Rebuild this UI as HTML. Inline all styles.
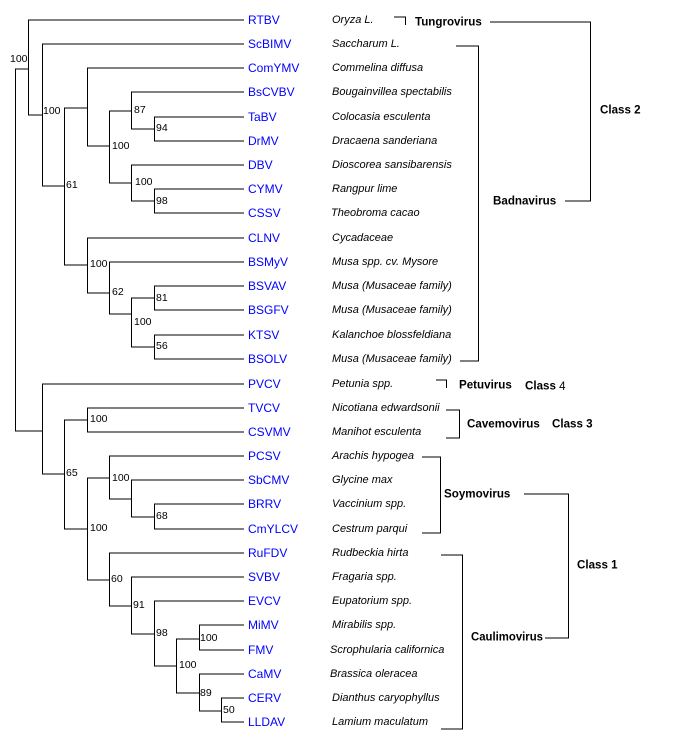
<!DOCTYPE html>
<html><head><meta charset="utf-8"><style>
html,body{margin:0;padding:0;background:#fff}
svg{display:block}
text{font-family:"Liberation Sans",Arial,sans-serif}
.l{fill:#0000ff;font-size:12px}
.s{font-style:italic;font-size:11px;fill:#000}
.n{font-size:10.5px;fill:#000}
.b{font-weight:bold;font-size:11.6px;fill:#000}
</style></head><body>
<svg width="673" height="752" viewBox="0 0 673 752" xmlns="http://www.w3.org/2000/svg">
<g stroke="#000" stroke-width="1" fill="none" shape-rendering="crispEdges">
<path d="M15.5 69V431M15 69H28M15 431H42"/>
<path d="M28.5 20V115M28 20H244M28 115H42"/>
<path d="M42.5 44V186M42 44H244M42 186H64"/>
<path d="M64.5 108V265M64 108H87M64 265H87"/>
<path d="M87.5 68V146M87 68H244M87 146H109"/>
<path d="M109.5 111V183M109 111H131M109 183H131"/>
<path d="M131.5 92V129M131 92H244M131 129H154"/>
<path d="M154.5 117V141M154 117H244M154 141H244"/>
<path d="M131.5 165V201M131 165H244M131 201H154"/>
<path d="M154.5 189V213M154 189H244M154 213H244"/>
<path d="M87.5 238V293M87 238H244M87 293H109"/>
<path d="M109.5 262V314M109 262H244M109 314H131"/>
<path d="M131.5 298V347M131 298H154M131 347H154"/>
<path d="M154.5 286V310M154 286H244M154 310H244"/>
<path d="M154.5 335V359M154 335H244M154 359H244"/>
<path d="M42.5 384V474M42 384H244M42 474H64"/>
<path d="M64.5 420V529M64 420H87M64 529H87"/>
<path d="M87.5 408V432M87 408H244M87 432H244"/>
<path d="M87.5 478V580M87 478H109M87 580H109"/>
<path d="M109.5 456V499M109 456H244M109 499H131"/>
<path d="M131.5 480V517M131 480H244M131 517H154"/>
<path d="M154.5 504V529M154 504H244M154 529H244"/>
<path d="M109.5 553V606M109 553H244M109 606H131"/>
<path d="M131.5 577V634M131 577H244M131 634H154"/>
<path d="M154.5 601V666M154 601H244M154 666H176"/>
<path d="M176.5 639V693M176 639H199M176 693H199"/>
<path d="M199.5 625V650M199 625H244M199 650H244"/>
<path d="M199.5 674V711M199 674H244M199 711H221"/>
<path d="M221.5 698V722M221 698H244M221 722H244"/>
<path d="M394 17H405.5V25"/>
<path d="M490 22H590.5V201H565"/>
<path d="M456 46H478.5V361H460"/>
<path d="M436 380H446.5V388"/>
<path d="M446 410H459.5V438H446"/>
<path d="M422 457H440.5V533H422"/>
<path d="M524 494H568.5V638H545"/>
<path d="M441 555H462.5V729H441"/>
</g>
<g class="l" dominant-baseline="central">
<text x="248" y="20">RTBV</text><text x="248" y="44">ScBIMV</text><text x="248" y="68">ComYMV</text><text x="248" y="92">BsCVBV</text><text x="248" y="117">TaBV</text><text x="248" y="141">DrMV</text><text x="248" y="165">DBV</text><text x="248" y="189">CYMV</text><text x="248" y="213">CSSV</text><text x="248" y="238">CLNV</text><text x="248" y="262">BSMyV</text><text x="248" y="286">BSVAV</text><text x="248" y="310">BSGFV</text><text x="248" y="335">KTSV</text><text x="248" y="359">BSOLV</text><text x="248" y="384">PVCV</text><text x="248" y="408">TVCV</text><text x="248" y="432">CSVMV</text><text x="248" y="456">PCSV</text><text x="248" y="480">SbCMV</text><text x="248" y="504">BRRV</text><text x="248" y="529">CmYLCV</text><text x="248" y="553">RuFDV</text><text x="248" y="577">SVBV</text><text x="248" y="601">EVCV</text><text x="248" y="625">MiMV</text><text x="248" y="650">FMV</text><text x="248" y="674">CaMV</text><text x="248" y="698">CERV</text><text x="248" y="722">LLDAV</text>
</g>
<g class="s" dominant-baseline="central">
<text x="332" y="20">Oryza L.</text><text x="332" y="44">Saccharum L.</text><text x="332" y="68">Commelina diffusa</text><text x="332" y="92">Bougainvillea spectabilis</text><text x="332" y="117">Colocasia esculenta</text><text x="332" y="141">Dracaena sanderiana</text><text x="332" y="165">Dioscorea sansibarensis</text><text x="332" y="189">Rangpur lime</text><text x="331" y="213">Theobroma cacao</text><text x="332" y="238">Cycadaceae</text><text x="332" y="262">Musa spp. cv. Mysore</text><text x="332" y="286">Musa (Musaceae family)</text><text x="332" y="310">Musa (Musaceae family)</text><text x="332" y="335">Kalanchoe blossfeldiana</text><text x="332" y="359">Musa (Musaceae family)</text><text x="332" y="384">Petunia spp.</text><text x="332" y="408">Nicotiana edwardsonii</text><text x="332" y="432">Manihot esculenta</text><text x="332" y="456">Arachis hypogea</text><text x="332" y="480">Glycine max</text><text x="332" y="504">Vaccinium spp.</text><text x="332" y="529">Cestrum parqui</text><text x="332" y="553">Rudbeckia hirta</text><text x="332" y="577">Fragaria spp.</text><text x="332" y="601">Eupatorium spp.</text><text x="332" y="625">Mirabilis spp.</text><text x="330" y="650">Scrophularia californica</text><text x="330" y="674">Brassica oleracea</text><text x="332" y="698">Dianthus caryophyllus</text><text x="332" y="722">Lamium maculatum</text>
</g>
<g class="n" dominant-baseline="central">
<text x="10" y="59">100</text><text x="43" y="111">100</text><text x="66" y="185">61</text><text x="112" y="146">100</text><text x="134" y="110">87</text><text x="156" y="128">94</text><text x="135" y="182">100</text><text x="156" y="201">98</text><text x="90" y="264">100</text><text x="112" y="292">62</text><text x="156" y="298">81</text><text x="134" y="322">100</text><text x="156" y="346">56</text>
<text x="66" y="473">65</text><text x="90" y="419">100</text><text x="90" y="528">100</text><text x="112" y="478">100</text><text x="156" y="516">68</text><text x="111" y="579">60</text><text x="133" y="605">91</text><text x="156" y="633">98</text><text x="179" y="665">100</text><text x="200" y="638">100</text><text x="200" y="693">89</text><text x="223" y="710">50</text>
</g>
<g class="b" dominant-baseline="central">
<text x="415" y="22">Tungrovirus</text><text x="600" y="110">Class 2</text><text x="493" y="201">Badnavirus</text>
<text x="459" y="385">Petuvirus</text><text x="525" y="386">Class <tspan font-weight="normal">4</tspan></text>
<text x="467" y="424">Cavemovirus</text><text x="552" y="424">Class 3</text>
<text x="444" y="494">Soymovirus</text><text x="577" y="565">Class 1</text><text x="471" y="637" textLength="72" lengthAdjust="spacingAndGlyphs">Caulimovirus</text>
</g>
</svg>
</body></html>
